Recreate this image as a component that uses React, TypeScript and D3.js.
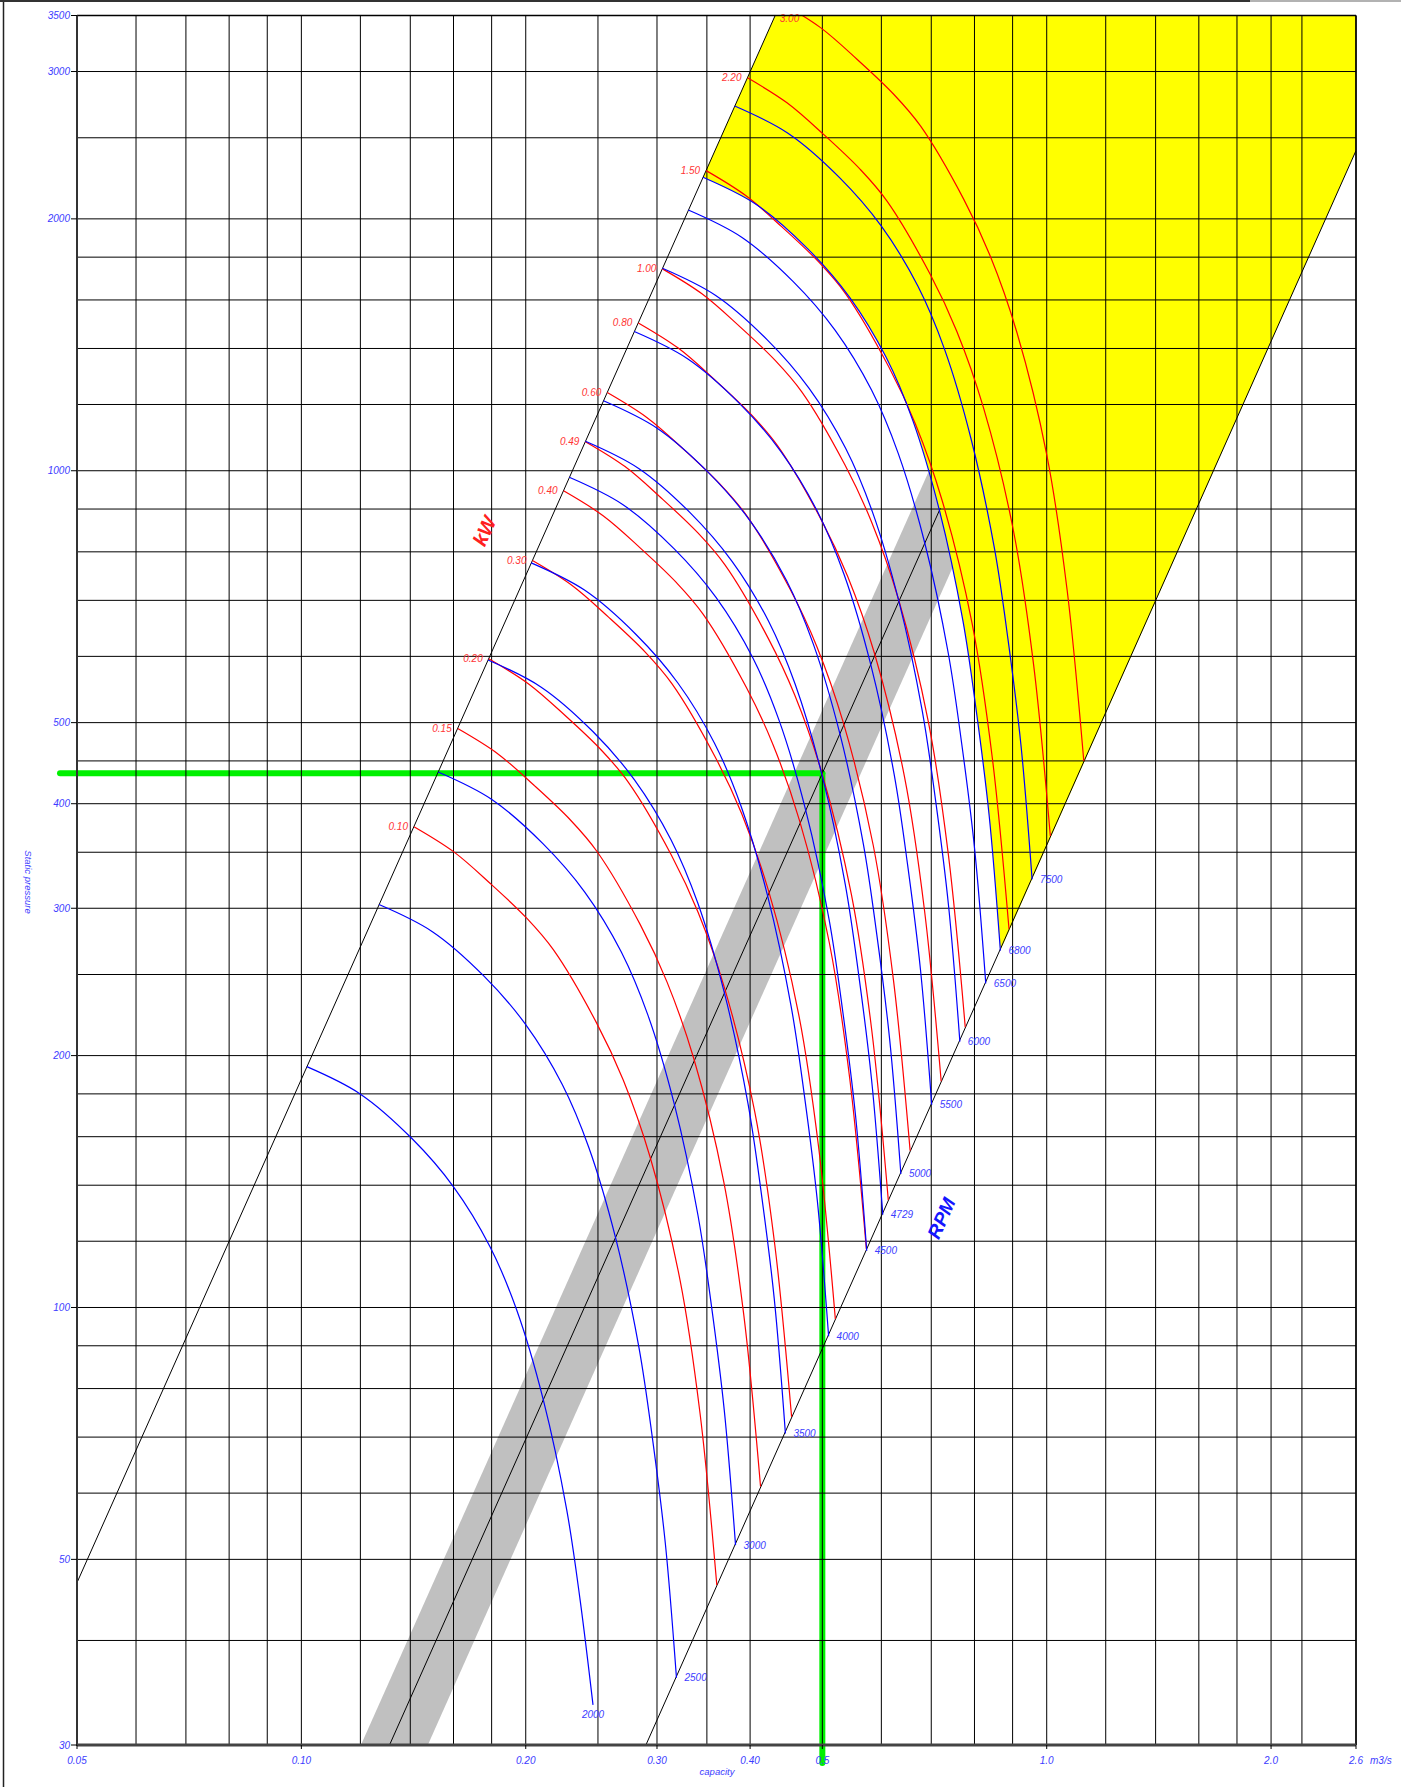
import React from 'react';
import * as d3 from 'd3';

// fan chart: static pressure (Pa) vs capacity (m3/s), log-log
const W = 1401;
const H = 1787;
const plot = { left: 77, right: 1356, top: 15.5, bottom: 1745 };

const xGrid = [0.05, 0.06, 0.07, 0.08, 0.09, 0.1, 0.12, 0.14, 0.16, 0.18, 0.2, 0.25, 0.3, 0.35, 0.4, 0.5, 0.6, 0.7, 0.8, 0.9, 1.0, 1.2, 1.4, 1.6, 1.8, 2.0, 2.2, 2.6];
const yGrid = [30, 40, 50, 60, 70, 80, 90, 100, 120, 140, 160, 180, 200, 250, 300, 350, 400, 450, 500, 600, 700, 800, 900, 1000, 1200, 1400, 1600, 1800, 2000, 2500, 3000, 3500];
const xTickValues = [0.05, 0.1, 0.2, 0.3, 0.4, 0.5, 1.0, 2.0, 2.6];
const xTickLabels = ['0.05', '0.10', '0.20', '0.30', '0.40', '0.5', '1.0', '2.0', '2.6'];
const yTickValues = [30, 50, 100, 200, 300, 400, 500, 1000, 2000, 3000, 3500];

// boundary lines
const kwLine = [[0.05, 46.9], [0.1, 187.4], [0.2, 749.6], [0.3, 1686.6], [0.4322, 3500]];
const rpmLine = [[0.2899, 30], [0.5, 89.3], [1.0, 357], [2.6, 2413]];
const systemLine = [[0.1313, 30], [0.5, 435], [0.72, 902]];
const systemBand = [[0.1202, 30], [0.6973, 1006], [0.7534, 778], [0.1478, 30]];
const dutyPoint = [0.5, 435];

// fan curves per speed
const rpmLabels = ['2000', '2500', '3000', '3500', '4000', '4500', '4729', '5000', '5500', '6000', '6500', '6800', '7500'];
const rpm2000 = [[0.1017, 194.0], [0.1199, 180.0], [0.1406, 159.3], [0.1600, 139.4], [0.1791, 118.2], [0.1945, 99.3], [0.2112, 77.5], [0.2270, 57.3], [0.2366, 44.7], [0.2462, 33.5]];
const rpm2500 = [[0.1271, 303.1], [0.1499, 281.3], [0.1758, 248.9], [0.2000, 217.8], [0.2239, 184.7], [0.2431, 155.2], [0.2640, 121.1], [0.2838, 89.5], [0.2958, 69.8], [0.3078, 52.3], [0.3186, 36.1]];
const rpm3000 = [[0.1526, 436.5], [0.1799, 405.0], [0.2109, 358.4], [0.2400, 313.7], [0.2687, 266.0], [0.2918, 223.4], [0.3168, 174.4], [0.3405, 128.9], [0.3549, 100.6], [0.3693, 75.4], [0.3824, 52.0]];
const rpm3500 = [[0.1780, 594.1], [0.2098, 551.3], [0.2461, 487.9], [0.2800, 426.9], [0.3134, 362.0], [0.3404, 304.1], [0.3696, 237.3], [0.3973, 175.5], [0.4141, 136.9], [0.4309, 102.6], [0.4461, 70.7]];
const rpm4000 = [[0.2034, 776.0], [0.2398, 720.0], [0.2812, 637.2], [0.3200, 557.6], [0.3582, 472.8], [0.3890, 397.2], [0.4224, 310.0], [0.4540, 229.2], [0.4732, 178.8], [0.4924, 134.0], [0.5098, 92.4]];
const rpm4500 = [[0.2288, 982.1], [0.2698, 911.3], [0.3164, 806.5], [0.3600, 705.7], [0.4030, 598.4], [0.4376, 502.7], [0.4752, 392.3], [0.5108, 290.1], [0.5324, 226.3], [0.5540, 169.6], [0.5735, 116.9]];
const rpm4729 = [[0.2405, 1084.6], [0.2835, 1006.4], [0.3325, 890.6], [0.3783, 779.4], [0.4235, 660.8], [0.4599, 555.2], [0.4994, 433.3], [0.5367, 320.4], [0.5594, 249.9], [0.5821, 187.3], [0.6027, 129.1]];
const rpm5000 = [[0.2543, 1212.5], [0.2998, 1125.0], [0.3515, 995.6], [0.4000, 871.3], [0.4478, 738.8], [0.4863, 620.6], [0.5280, 484.4], [0.5675, 358.1], [0.5915, 279.4], [0.6155, 209.4], [0.6373, 144.4]];
const rpm5500 = [[0.2797, 1467.1], [0.3297, 1361.3], [0.3867, 1204.7], [0.4400, 1054.2], [0.4925, 893.9], [0.5349, 751.0], [0.5808, 586.1], [0.6243, 433.3], [0.6507, 338.0], [0.6771, 253.3], [0.7010, 174.7]];
const rpm6000 = [[0.3051, 1746.0], [0.3597, 1620.0], [0.4218, 1433.7], [0.4800, 1254.6], [0.5373, 1063.8], [0.5835, 893.7], [0.6336, 697.5], [0.6810, 515.7], [0.7098, 402.3], [0.7386, 301.5], [0.7647, 207.9]];
const rpm6500 = [[0.3305, 2049.1], [0.3897, 1901.3], [0.4570, 1682.6], [0.5200, 1472.4], [0.5821, 1248.5], [0.6321, 1048.9], [0.6864, 818.6], [0.7378, 605.2], [0.7690, 472.1], [0.8002, 353.8], [0.8284, 244.0]];
const rpm6800 = [[0.3458, 2242.6], [0.4077, 2080.8], [0.4780, 1841.5], [0.5440, 1611.5], [0.6089, 1366.4], [0.6613, 1147.9], [0.7181, 895.9], [0.7718, 662.4], [0.8044, 516.7], [0.8371, 387.3], [0.8667, 267.0]];
const rpm7500 = [[0.3814, 2728.1], [0.4496, 2531.3], [0.5273, 2240.2], [0.6000, 1960.3], [0.6716, 1662.2], [0.7294, 1396.4], [0.7920, 1089.8], [0.8513, 805.8], [0.8873, 628.6], [0.9233, 471.1], [0.9559, 324.8]];
const rpmCurves = [rpm2000, rpm2500, rpm3000, rpm3500, rpm4000, rpm4500, rpm4729, rpm5000, rpm5500, rpm6000, rpm6500, rpm6800, rpm7500];

// shaft power curves (kW)
const kwLabels = ['0.10', '0.15', '0.20', '0.30', '0.40', '0.49', '0.60', '0.80', '1.00', '1.50', '2.20', '3.00'];
const kw010 = [[0.1416, 375.5], [0.1600, 350.6], [0.1791, 321.4], [0.2006, 291.9], [0.2179, 267.5], [0.2490, 218.7], [0.2703, 187.0], [0.2936, 151.4], [0.3221, 107.9], [0.3427, 74.7], [0.3609, 46.6]];
const kw015 = [[0.1621, 492.0], [0.1832, 459.4], [0.2050, 421.1], [0.2296, 382.5], [0.2494, 350.5], [0.2850, 286.6], [0.3094, 245.0], [0.3361, 198.4], [0.3687, 141.4], [0.3923, 97.9], [0.4131, 61.1]];
const kw020 = [[0.1784, 596.1], [0.2016, 556.5], [0.2257, 510.2], [0.2527, 463.4], [0.2745, 424.6], [0.3137, 347.2], [0.3406, 296.8], [0.3699, 240.3], [0.4058, 171.3], [0.4318, 118.6], [0.4547, 74.0]];
const kw030 = [[0.2042, 781.1], [0.2308, 729.3], [0.2583, 668.5], [0.2893, 607.2], [0.3143, 556.4], [0.3591, 454.9], [0.3898, 389.0], [0.4234, 314.9], [0.4646, 224.4], [0.4943, 155.4], [0.5205, 96.9]];
const kw040 = [[0.2248, 946.2], [0.2540, 883.5], [0.2843, 809.9], [0.3184, 735.5], [0.3459, 674.1], [0.3953, 551.1], [0.4291, 471.2], [0.4661, 381.5], [0.5113, 271.9], [0.5440, 188.2], [0.5729, 117.4]];
const kw049 = [[0.2405, 1083.3], [0.2718, 1011.5], [0.3042, 927.2], [0.3407, 842.1], [0.3701, 771.7], [0.4229, 630.9], [0.4591, 539.5], [0.4987, 436.8], [0.5471, 311.3], [0.5821, 215.5], [0.6130, 134.4]];
const kw060 = [[0.2573, 1239.9], [0.2907, 1157.7], [0.3255, 1061.2], [0.3645, 963.8], [0.3960, 883.3], [0.4525, 722.1], [0.4912, 617.5], [0.5335, 499.9], [0.5853, 356.3], [0.6227, 246.7], [0.6558, 153.9]];
const kw080 = [[0.2832, 1502.0], [0.3200, 1402.4], [0.3582, 1285.6], [0.4012, 1167.6], [0.4358, 1070.0], [0.4980, 874.8], [0.5406, 748.0], [0.5872, 605.6], [0.6442, 431.6], [0.6854, 298.8], [0.7218, 186.4]];
const kw100 = [[0.3051, 1742.9], [0.3447, 1627.3], [0.3859, 1491.8], [0.4322, 1354.9], [0.4695, 1241.6], [0.5365, 1015.1], [0.5823, 868.0], [0.6325, 702.7], [0.6939, 500.8], [0.7383, 346.7], [0.7775, 216.3]];
const kw150 = [[0.3492, 2283.9], [0.3946, 2132.4], [0.4417, 1954.8], [0.4947, 1775.4], [0.5374, 1627.0], [0.6141, 1330.2], [0.6666, 1137.4], [0.7241, 920.8], [0.7944, 656.3], [0.8452, 454.3], [0.8901, 283.4]];
const kw220 = [[0.3968, 2948.2], [0.4483, 2752.7], [0.5019, 2523.5], [0.5621, 2291.8], [0.6106, 2100.3], [0.6977, 1717.1], [0.7574, 1468.2], [0.8227, 1188.7], [0.9025, 847.2], [0.9603, 586.5], [1.0113, 365.9]];
const kw300 = [[0.4400, 3625.4], [0.4972, 3385.0], [0.5565, 3103.1], [0.6233, 2818.3], [0.6771, 2582.7], [0.7737, 2111.5], [0.8399, 1805.5], [0.9123, 1461.8], [1.0008, 1041.8], [1.0649, 721.2], [1.1214, 449.9]];
const kwCurves = [kw010, kw015, kw020, kw030, kw040, kw049, kw060, kw080, kw100, kw150, kw220, kw300];

const FONT = '"Liberation Sans", Arial, Helvetica, sans-serif';
const BLUE_TXT = '#3c3cff';
const RED_TXT = '#ff3434';

export default function App() {
  const x = d3.scaleLog().domain([0.05, 2.6]).range([plot.left, plot.right]);
  const y = d3.scaleLog().domain([30, 3500]).range([plot.bottom, plot.top]);

  const smooth = d3.line<number[]>()
    .x(d => x(d[0]))
    .y(d => y(d[1]))
    .curve(d3.curveCatmullRom.alpha(0.5));
  const straight = d3.line<number[]>().x(d => x(d[0])).y(d => y(d[1]));

  // yellow area: right of the 6800 curve, between kW line and rpm line
  const last6800 = rpm6800[rpm6800.length - 1];
  const yellowTail = [last6800, [2.6, rpmLine[rpmLine.length - 1][1]], [2.6, 3500], [kwLine[kwLine.length - 1][0], 3500]];
  const yellowPath = smooth(rpm6800) + yellowTail.map(d => `L${x(d[0])},${y(d[1])}`).join('') + 'Z';

  // where a curve enters the chart top
  const topEntry = (pts: number[][]) => {
    const [a, b] = pts;
    const t = (Math.log(a[1]) - Math.log(3500)) / (Math.log(a[1]) - Math.log(b[1]));
    return Math.exp(Math.log(a[0]) + t * (Math.log(b[0]) - Math.log(a[0])));
  };

  const kwAngle = Math.atan2(y(kwLine[4][1]) - y(kwLine[0][1]), x(kwLine[4][0]) - x(kwLine[0][0])) * 180 / Math.PI;
  const rpmAngle = Math.atan2(y(rpmLine[3][1]) - y(rpmLine[0][1]), x(rpmLine[3][0]) - x(rpmLine[0][0])) * 180 / Math.PI;

  const txt = { fontFamily: FONT, fontStyle: 'italic' as const };

  return (
    <div>
      <svg width={W} height={H} style={{ position: 'absolute', left: 0, top: 0, background: '#fff', display: 'block' }}>
        <defs>
          <clipPath id="plotClip">
            <rect x={plot.left} y={plot.top} width={plot.right - plot.left} height={plot.bottom - plot.top} />
          </clipPath>
        </defs>
        {/* page frame */}
        <line x1={3.5} x2={3.5} y1={0} y2={H} stroke="#222" strokeWidth={1.5} />
        <line x1={0} x2={1250} y1={1} y2={1} stroke="#333" strokeWidth={2} />
        <line x1={1250} x2={W} y1={1} y2={1} stroke="#999" strokeWidth={1.5} />

        <g clipPath="url(#plotClip)">
          <path d={straight(systemBand) + 'Z'} fill="#c0c0c0" />
          <path d={yellowPath} fill="#ffff00" />
        </g>

        {/* duty point */}
        <line x1={60} x2={x(dutyPoint[0])} y1={y(dutyPoint[1])} y2={y(dutyPoint[1])} stroke="#00f000" strokeWidth={6} strokeLinecap="round" />
        <line x1={x(dutyPoint[0])} x2={x(dutyPoint[0])} y1={y(dutyPoint[1])} y2={1763} stroke="#00f000" strokeWidth={6} strokeLinecap="round" />

        {/* grid */}
        <g stroke="#000" strokeWidth={1}>
          {xGrid.map(v => <line key={'gx' + v} x1={x(v)} x2={x(v)} y1={plot.top} y2={plot.bottom} />)}
          {yGrid.map(v => <line key={'gy' + v} x1={plot.left} x2={plot.right} y1={y(v)} y2={y(v)} />)}
        </g>

        <g clipPath="url(#plotClip)" fill="none">
          <path d={straight(kwLine)!} stroke="#000" strokeWidth={1} />
          <path d={straight(rpmLine)!} stroke="#000" strokeWidth={1} />
          <path d={straight(systemLine)!} stroke="#000" strokeWidth={1} />
          {kwCurves.map((c, i) => <path key={'kw' + i} d={smooth(c)!} stroke="#ff0000" strokeWidth={1.2} />)}
          {rpmCurves.map((c, i) => <path key={'rpm' + i} d={smooth(c)!} stroke="#0000ff" strokeWidth={1.2} />)}
        </g>

        {/* kW labels at the curve starts */}
        {kwCurves.map((c, i) => {
          const clipped = c[0][1] > 3500;
          const qx = clipped ? x(topEntry(c)) - 2 : x(c[0][0]) - 6;
          const py = clipped ? plot.top + 6 : y(c[0][1]) + 3.5;
          return (
            <text key={'kwl' + i} x={qx} y={py} textAnchor="end" fontSize={10} fill={RED_TXT} {...txt}>{kwLabels[i]}</text>
          );
        })}

        {/* rpm labels at the curve ends */}
        {rpmCurves.map((c, i) => {
          const e = c[c.length - 1];
          if (i === 0) {
            return <text key={'rl' + i} x={x(e[0])} y={y(e[1]) + 13.5} textAnchor="middle" fontSize={10} fill={BLUE_TXT} {...txt}>{rpmLabels[i]}</text>;
          }
          return <text key={'rl' + i} x={x(e[0]) + 8} y={y(e[1]) + 3.5} fontSize={10} fill={BLUE_TXT} {...txt}>{rpmLabels[i]}</text>;
        })}

        <text transform={`translate(484.5,531) rotate(${kwAngle})`} textAnchor="middle" dy={7} fontSize={20} fontWeight="bold" fill="#ff2020" {...txt}>kW</text>
        <text transform={`translate(941,1218) rotate(${rpmAngle})`} textAnchor="middle" dy={7} fontSize={19} fontWeight="bold" fill="#1515ff" {...txt}>RPM</text>

        {/* axes frame */}
        <line x1={plot.left} x2={plot.right} y1={plot.top} y2={plot.top} stroke="#000" strokeWidth={1.5} />
        <line x1={plot.right} x2={plot.right} y1={plot.top} y2={plot.bottom} stroke="#000" strokeWidth={1.5} />
        <line x1={plot.left} x2={plot.left} y1={plot.top} y2={plot.bottom + 1} stroke="#333" strokeWidth={2} />
        <line x1={plot.left} x2={plot.right} y1={plot.bottom} y2={plot.bottom} stroke="#444" strokeWidth={3} />

        {yTickValues.map(v => (
          <g key={'yt' + v}>
            <line x1={plot.left - 6} x2={plot.left} y1={y(v)} y2={y(v)} stroke="#000" strokeWidth={1} />
            <text x={plot.left - 7} y={y(v) + 3.5} textAnchor="end" fontSize={10} fill={BLUE_TXT} {...txt}>{v}</text>
          </g>
        ))}
        {xTickValues.map((v, i) => (
          <g key={'xt' + v}>
            <line x1={x(v)} x2={x(v)} y1={plot.bottom} y2={plot.bottom + 4} stroke="#000" strokeWidth={1} />
            <text x={x(v)} y={1764} textAnchor="middle" fontSize={10} fill={BLUE_TXT} {...txt}>{xTickLabels[i]}</text>
          </g>
        ))}
        <text x={1370} y={1764} fontSize={10} fill={BLUE_TXT} {...txt}>m3/s</text>
        <text x={717} y={1775} textAnchor="middle" fontSize={9.5} fill={BLUE_TXT} {...txt}>capacity</text>
        <text transform="translate(25,882) rotate(90)" textAnchor="middle" fontSize={9.5} fill={BLUE_TXT} {...txt}>Static pressure</text>
      </svg>
    </div>
  );
}
